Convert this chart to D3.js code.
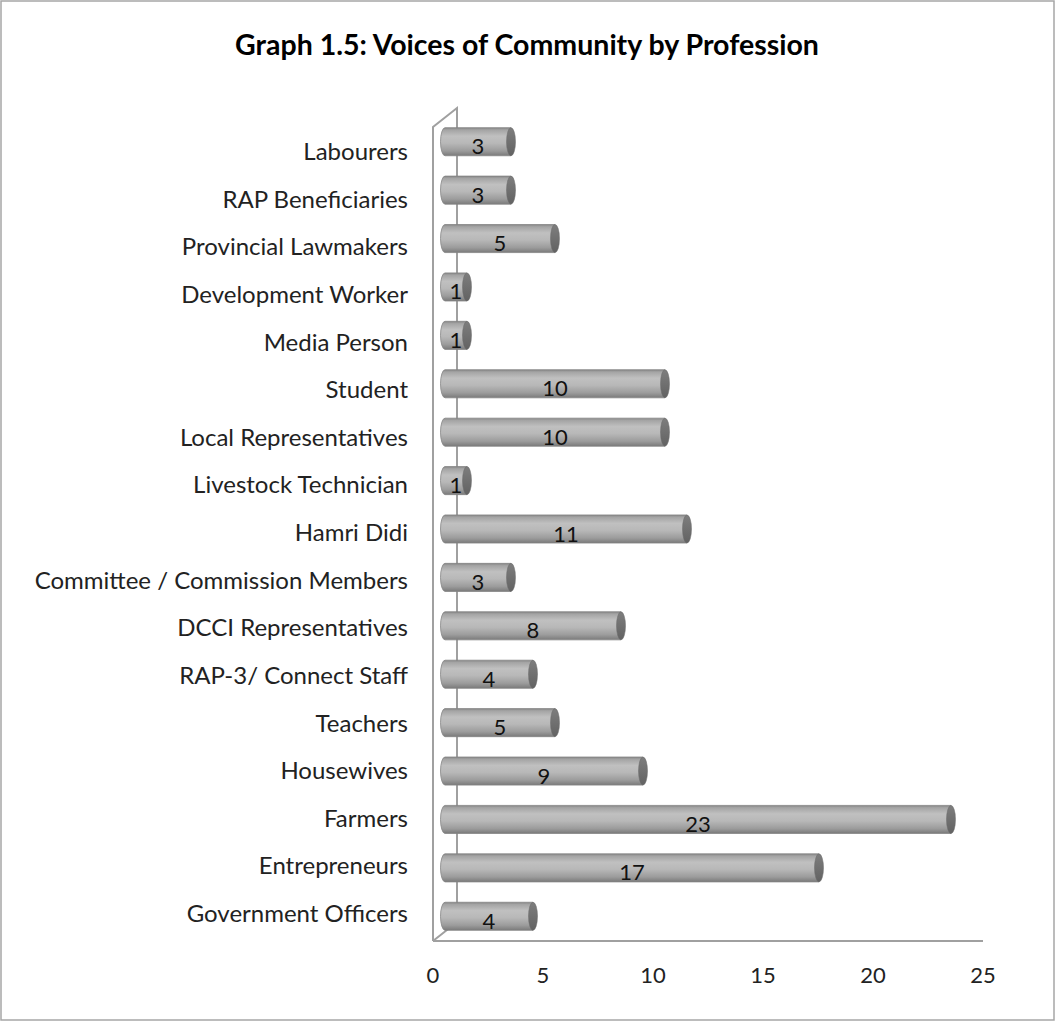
<!DOCTYPE html>
<html>
<head>
<meta charset="utf-8">
<script src="https://cdn.jsdelivr.net/npm/d3@7"></script>
<style>
  html, body { margin: 0; padding: 0; background: #fff; }
  svg { display: block; }
</style>
</head>
<body>
<svg id="chart" width="1056" height="1022"></svg>
<script>
// Professions, listed top to bottom
const categories = [
  "Labourers", "RAP Beneficiaries", "Provincial Lawmakers", "Development Worker",
  "Media Person", "Student", "Local Representatives", "Livestock Technician",
  "Hamri Didi", "Committee / Commission Members", "DCCI Representatives",
  "RAP-3/ Connect Staff", "Teachers", "Housewives", "Farmers", "Entrepreneurs",
  "Government Officers"
];
const counts = [3, 3, 5, 1, 1, 10, 10, 1, 11, 3, 8, 4, 5, 9, 23, 17, 4];
const xTicks = [0, 5, 10, 15, 20, 25];
const title = "Graph 1.5: Voices of Community by Profession";

const FONT = "Lato, 'Open Sans', sans-serif";
const svg = d3.select("#chart");

// Outer frame
svg.append("rect").attr("x", 1).attr("y", 1).attr("width", 1053).attr("height", 1019)
  .attr("fill", "#fff").attr("stroke", "#a6a6a6").attr("stroke-width", 1.5);

svg.append("text").attr("x", 527).attr("y", 55).attr("text-anchor", "middle")
  .attr("font-family", FONT).attr("font-weight", "bold").attr("font-size", 28.5)
  .attr("fill", "#000").text(title);

// Plot geometry: floor front edge and depth offset for the 3D wall
const floorY = 941, depthX = 24, depthY = 19;
const x = d3.scaleLinear().domain([0, 25]).range([433, 983]);
const y = d3.scaleBand().domain(categories).range([118, 940]).paddingInner(0.42).paddingOuter(0.2);
// Category labels follow the front face of the wall, slightly below the bars
const yLabel = d3.scalePoint().domain(categories).range([160, 922]);

// Bars sit halfway into the depth
const barShift = depthX / 2;
const xb = v => x(v) + barShift;

const defs = svg.append("defs");
const grad = defs.append("linearGradient").attr("id", "cyl")
  .attr("x1", 0).attr("y1", 0).attr("x2", 0).attr("y2", 1);
[[0, "#858585"], [0.08, "#a4a4a4"], [0.3, "#c0c0c0"], [0.55, "#b8b8b8"], [0.82, "#9c9c9c"], [1, "#7a7a7a"]]
  .forEach(([o, c]) => grad.append("stop").attr("offset", o).attr("stop-color", c));
const capGrad = defs.append("linearGradient").attr("id", "cap")
  .attr("x1", 0).attr("y1", 0).attr("x2", 0).attr("y2", 1);
[[0, "#7e7e7e"], [0.5, "#707070"], [1, "#626262"]]
  .forEach(([o, c]) => capGrad.append("stop").attr("offset", o).attr("stop-color", c));

// Wall and floor outline
const wall = svg.append("g").attr("fill", "none").attr("stroke", "#a0a0a0").attr("stroke-width", 2);
const wallTop = y.range()[0] + 9;
wall.append("path").attr("d",
  `M${x(0)},${floorY} L${x(0)},${wallTop} L${x(0) + depthX},${wallTop - depthY} L${x(0) + depthX},${floorY - depthY} L${x(0)},${floorY}`);
wall.append("line").attr("x1", x(0)).attr("x2", x(25)).attr("y1", floorY).attr("y2", floorY);

// Category labels
svg.append("g").selectAll("text").data(categories).join("text")
  .attr("x", 408).attr("y", d => yLabel(d))
  .attr("text-anchor", "end").attr("font-family", FONT).attr("font-size", 24)
  .attr("fill", "#222").text(d => d);

// X tick labels
svg.append("g").selectAll("text").data(xTicks).join("text")
  .attr("x", d => x(d)).attr("y", floorY + 42).attr("text-anchor", "middle")
  .attr("font-family", FONT).attr("font-size", 22).attr("fill", "#222").text(d => d);

// Cylinders
const rx = 4.5;
const bars = svg.append("g").selectAll("g").data(categories.map((c, i) => ({ c, v: counts[i] }))).join("g");
bars.append("path")
  .attr("d", d => {
    const y0 = y(d.c), h = y.bandwidth(), x0 = xb(0), x1 = xb(d.v);
    return `M${x1},${y0} L${x0},${y0} A${rx},${h / 2} 0 0 0 ${x0},${y0 + h} L${x1},${y0 + h} Z`;
  })
  .attr("fill", "url(#cyl)").attr("stroke", "#858585").attr("stroke-width", 0.8);
bars.append("ellipse")
  .attr("cx", d => xb(d.v)).attr("cy", d => y(d.c) + y.bandwidth() / 2)
  .attr("rx", rx).attr("ry", y.bandwidth() / 2)
  .attr("fill", "url(#cap)").attr("stroke", "#6a6a6a").attr("stroke-width", 0.5);
bars.append("text")
  .attr("x", d => (xb(0) + xb(d.v)) / 2).attr("y", d => y(d.c) + y.bandwidth() / 2 + 12.5)
  .attr("text-anchor", "middle").attr("font-family", FONT).attr("font-size", 22)
  .attr("fill", "#111").text(d => d.v);
</script>
</body>
</html>
